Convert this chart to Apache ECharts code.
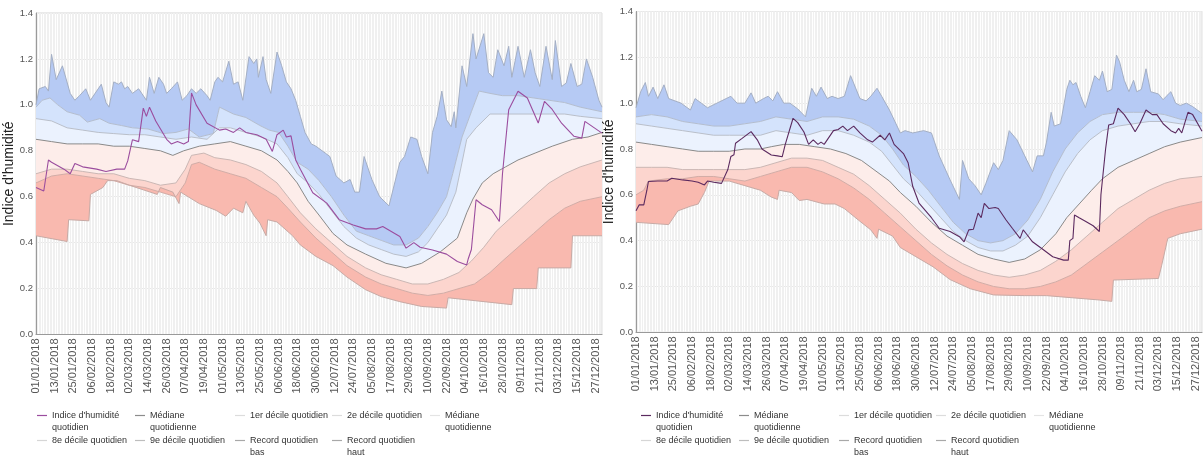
<!DOCTYPE html>
<html>
<head>
<meta charset="utf-8">
<script src="https://cdn.jsdelivr.net/npm/echarts@6/dist/echarts.min.js"></script>
<style>
  html, body { margin: 0; padding: 0; background: #ffffff; }
  #chart { width: 1203px; height: 459px; }
</style>
</head>
<body>
<div id="chart"></div>
<script>
// Daily humidity index for 2018, with the historical daily deciles and records.
// Each series is a list of [day of year (0 = 01/01), value].

// ---- Left station ----
const recordHautA = [[0,1.0],[2,1.07],[6,1.08],[8,1.06],[10,1.22],[13,1.11],[17,1.17],[22,1.05],[25,1.02],[28,1.04],[32,1.07],[35,1.02],[39,1.06],[42,1.09],[45,1.01],[47,0.99],[50,1.1],[53,1.09],[55,1.1],[57,1.07],[59,1.08],[62,1.05],[66,1.07],[71,1.02],[73,1.12],[76,1.05],[79,1.12],[82,1.09],[84,1.05],[87,1.07],[91,1.1],[94,1.02],[97,1.04],[100,1.07],[103,1.05],[106,1.07],[110,1.04],[112,1.02],[115,1.1],[117,1.12],[120,1.1],[124,1.19],[127,1.09],[130,1.1],[133,1.02],[137,1.21],[140,1.18],[142,1.2],[143,1.12],[146,1.21],[148,1.11],[151,1.05],[155,1.23],[158,1.17],[161,1.1],[164,1.07],[167,1.02],[170,0.95],[173,0.88],[177,0.83],[180,0.82],[186,0.79],[189,0.775],[193,0.69],[198,0.66],[202,0.675],[205,0.62],[208,0.62],[211,0.775],[216,0.675],[221,0.6],[227,0.56],[234,0.75],[237,0.775],[241,0.86],[245,0.85],[248,0.775],[252,0.7],[255,0.88],[258,0.95],[261,1.06],[264,0.935],[267,0.905],[269,0.97],[270,0.9],[274,1.17],[277,1.08],[281,1.31],[283,1.2],[288,1.31],[291,1.14],[294,1.12],[297,1.24],[301,1.17],[304,1.255],[306,1.12],[310,1.255],[314,1.12],[318,1.24],[321,1.14],[324,1.08],[328,1.255],[332,1.11],[334,1.28],[338,1.08],[341,1.095],[344,1.18],[348,1.08],[351,1.09],[354,1.2],[358,1.12],[362,1.02],[364,0.99]];
const decile9A = [[0,0.99],[4,1.02],[9,1.03],[14,1.0],[20,0.97],[28,0.955],[33,0.925],[41,0.94],[47,0.92],[55,0.91],[62,0.9],[72,0.895],[82,0.875],[90,0.88],[98,0.895],[105,0.86],[114,0.875],[118,0.99],[127,0.96],[135,0.945],[144,0.91],[150,0.89],[156,0.88],[162,0.82],[168,0.75],[175,0.72],[182,0.67],[190,0.6],[198,0.52],[206,0.45],[214,0.43],[222,0.41],[230,0.39],[238,0.39],[246,0.42],[252,0.47],[258,0.53],[264,0.6],[268,0.7],[274,0.86],[280,0.97],[285,1.06],[292,1.05],[300,1.04],[310,1.04],[320,1.03],[330,1.02],[340,1.01],[350,0.99],[364,0.97]];
const decile8A = [[0,0.94],[10,0.93],[20,0.9],[30,0.89],[40,0.88],[50,0.875],[60,0.87],[70,0.87],[80,0.86],[90,0.85],[100,0.86],[110,0.85],[118,0.9],[125,0.9],[135,0.88],[145,0.86],[155,0.83],[162,0.77],[168,0.7],[175,0.66],[182,0.61],[190,0.54],[198,0.47],[206,0.42],[214,0.39],[222,0.37],[230,0.35],[238,0.34],[246,0.36],[252,0.4],[258,0.46],[264,0.52],[270,0.62],[274,0.75],[277,0.85],[283,0.9],[292,0.96],[300,0.96],[310,0.96],[320,0.96],[330,0.96],[340,0.96],[350,0.95],[364,0.94]];
const medianA = [[0,0.85],[10,0.84],[20,0.83],[30,0.83],[40,0.83],[50,0.82],[60,0.82],[70,0.81],[80,0.8],[88,0.78],[95,0.8],[105,0.82],[115,0.83],[125,0.84],[135,0.82],[145,0.8],[155,0.76],[162,0.71],[168,0.66],[175,0.58],[182,0.52],[191,0.44],[200,0.39],[212,0.35],[225,0.31],[238,0.29],[248,0.31],[260,0.36],[271,0.42],[277,0.53],[281,0.59],[287,0.66],[294,0.7],[302,0.73],[310,0.76],[321,0.79],[332,0.82],[345,0.85],[355,0.86],[364,0.88]];
const decile2A = [[0,0.7],[10,0.72],[20,0.72],[30,0.71],[40,0.7],[50,0.7],[60,0.68],[70,0.67],[80,0.65],[90,0.66],[96,0.72],[100,0.78],[108,0.79],[115,0.77],[125,0.76],[135,0.74],[145,0.71],[155,0.66],[162,0.6],[170,0.53],[180,0.46],[190,0.4],[200,0.34],[212,0.29],[222,0.26],[232,0.24],[242,0.22],[252,0.22],[262,0.24],[272,0.27],[280,0.32],[288,0.38],[296,0.45],[304,0.5],[312,0.55],[320,0.6],[330,0.66],[340,0.7],[350,0.73],[364,0.76]];
const decile1A = [[0,0.66],[10,0.69],[20,0.7],[30,0.69],[40,0.68],[50,0.67],[60,0.65],[70,0.64],[80,0.62],[90,0.6],[96,0.66],[100,0.74],[105,0.75],[115,0.72],[125,0.7],[135,0.68],[145,0.64],[155,0.6],[162,0.55],[170,0.49],[180,0.42],[190,0.36],[200,0.3],[212,0.25],[222,0.22],[232,0.2],[242,0.18],[252,0.17],[262,0.18],[272,0.2],[282,0.22],[292,0.27],[300,0.32],[310,0.38],[320,0.44],[330,0.5],[340,0.55],[350,0.58],[364,0.6]];
const recordBasA = [[0,0.43],[20,0.405],[21,0.5],[34,0.495],[35,0.61],[43,0.64],[46,0.67],[52,0.67],[60,0.65],[69,0.63],[78,0.61],[80,0.64],[88,0.62],[92,0.57],[93,0.62],[105,0.57],[116,0.54],[122,0.515],[127,0.55],[133,0.53],[135,0.58],[140,0.52],[144,0.485],[148,0.43],[149,0.5],[155,0.49],[165,0.43],[170,0.39],[180,0.34],[191,0.3],[200,0.25],[212,0.195],[222,0.165],[234,0.143],[248,0.122],[264,0.115],[265,0.16],[306,0.13],[307,0.2],[322,0.2],[323,0.29],[344,0.29],[345,0.43],[364,0.43]];
const indexA = [[0,0.64],[5,0.625],[8,0.76],[10,0.75],[18,0.72],[22,0.7],[25,0.745],[30,0.73],[39,0.72],[45,0.71],[52,0.72],[57,0.72],[59,0.756],[62,0.848],[66,0.84],[69,0.986],[71,0.95],[73,0.99],[77,0.93],[84,0.85],[87,0.83],[91,0.84],[95,0.83],[98,0.84],[100,1.052],[103,1.0],[110,0.92],[118,0.89],[122,0.895],[127,0.88],[131,0.9],[135,0.88],[142,0.87],[148,0.85],[152,0.797],[155,0.87],[159,0.89],[161,0.86],[164,0.865],[167,0.76],[170,0.72],[178,0.617],[187,0.572],[195,0.5],[204,0.477],[212,0.46],[219,0.46],[223,0.47],[234,0.427],[238,0.376],[243,0.4],[247,0.38],[255,0.368],[264,0.35],[271,0.318],[277,0.303],[278,0.33],[280,0.37],[283,0.587],[287,0.565],[293,0.543],[298,0.492],[300,0.7],[304,0.979],[310,1.059],[316,1.03],[323,0.921],[327,1.015],[332,0.98],[338,0.92],[346,0.863],[351,0.855],[353,0.928],[364,0.877]];

// ---- Right station ----
const recordHautB = [[0,0.98],[3,1.05],[6,1.09],[8,1.03],[11,1.07],[14,1.02],[18,1.08],[21,1.02],[29,1.0],[35,0.97],[38,1.02],[42,1.0],[46,0.98],[52,1.0],[58,1.02],[61,1.03],[65,1.0],[70,1.0],[74,1.045],[77,1.0],[82,1.02],[85,1.03],[88,1.01],[91,1.05],[95,1.0],[99,1.0],[104,0.975],[109,0.94],[113,1.065],[116,1.03],[119,1.07],[123,1.02],[126,1.03],[130,1.02],[134,1.03],[138,1.12],[141,1.07],[144,1.02],[148,1.01],[151,1.03],[155,1.065],[158,1.03],[163,0.97],[170,0.87],[173,0.88],[178,0.87],[185,0.88],[190,0.87],[195,0.77],[202,0.665],[208,0.58],[210,0.75],[214,0.67],[218,0.64],[222,0.6],[225,0.65],[230,0.74],[233,0.71],[236,0.75],[240,0.88],[245,0.84],[250,0.77],[255,0.7],[258,0.77],[262,0.77],[264,0.83],[267,0.96],[269,0.9],[273,0.91],[277,1.06],[279,1.1],[281,1.08],[283,1.09],[286,1.03],[289,0.98],[292,1.05],[295,1.12],[298,1.1],[300,1.14],[303,1.05],[306,1.06],[309,1.21],[311,1.18],[314,1.1],[317,1.05],[320,1.1],[322,1.05],[325,1.06],[328,1.15],[331,1.05],[336,1.04],[339,1.015],[341,1.03],[344,1.05],[347,1.0],[350,0.99],[354,1.0],[358,0.985],[364,0.955]];
const decile9B = [[0,0.94],[10,0.95],[20,0.94],[30,0.92],[40,0.91],[50,0.9],[60,0.9],[70,0.91],[80,0.92],[90,0.94],[100,0.93],[110,0.92],[120,0.94],[130,0.94],[140,0.93],[150,0.9],[158,0.86],[165,0.8],[172,0.73],[180,0.68],[188,0.62],[196,0.55],[204,0.48],[212,0.43],[220,0.4],[228,0.39],[236,0.4],[244,0.43],[252,0.49],[260,0.58],[268,0.7],[276,0.8],[284,0.87],[292,0.92],[300,0.95],[310,0.96],[320,0.96],[330,0.96],[340,0.95],[350,0.93],[364,0.92]];
const decile8B = [[0,0.91],[10,0.9],[20,0.89],[30,0.88],[40,0.87],[50,0.86],[60,0.86],[70,0.86],[80,0.86],[90,0.88],[100,0.87],[110,0.86],[120,0.88],[130,0.88],[140,0.86],[150,0.83],[158,0.79],[165,0.73],[172,0.67],[180,0.62],[188,0.56],[196,0.5],[204,0.44],[212,0.4],[220,0.37],[228,0.355],[236,0.355],[244,0.38],[252,0.42],[260,0.5],[268,0.6],[276,0.7],[284,0.78],[292,0.84],[300,0.88],[310,0.9],[320,0.91],[330,0.92],[340,0.92],[350,0.91],[364,0.9]];
const medianB = [[0,0.83],[10,0.82],[20,0.81],[30,0.8],[40,0.79],[50,0.79],[60,0.79],[70,0.8],[80,0.8],[87,0.81],[95,0.82],[105,0.82],[115,0.81],[125,0.8],[135,0.78],[145,0.75],[155,0.7],[163,0.66],[170,0.61],[180,0.55],[190,0.48],[200,0.42],[210,0.38],[220,0.34],[230,0.32],[240,0.305],[250,0.32],[260,0.36],[270,0.43],[277,0.5],[285,0.56],[293,0.62],[300,0.67],[310,0.72],[320,0.75],[330,0.78],[340,0.81],[350,0.83],[364,0.85]];
const decile2B = [[0,0.72],[10,0.72],[20,0.72],[30,0.71],[40,0.71],[50,0.71],[60,0.71],[70,0.71],[80,0.72],[90,0.74],[100,0.76],[110,0.76],[120,0.75],[130,0.72],[140,0.69],[150,0.64],[160,0.58],[170,0.52],[180,0.45],[190,0.39],[200,0.34],[210,0.3],[220,0.27],[230,0.25],[240,0.24],[250,0.25],[260,0.27],[270,0.31],[280,0.36],[290,0.42],[300,0.48],[310,0.54],[320,0.58],[330,0.62],[340,0.65],[350,0.67],[364,0.68]];
const decile1B = [[0,0.6],[5,0.62],[8,0.66],[20,0.67],[30,0.67],[40,0.68],[50,0.68],[60,0.67],[70,0.66],[80,0.68],[90,0.7],[100,0.72],[110,0.72],[120,0.7],[130,0.67],[140,0.63],[150,0.58],[160,0.52],[170,0.46],[180,0.4],[190,0.34],[200,0.29],[210,0.25],[220,0.22],[230,0.2],[240,0.19],[250,0.19],[260,0.2],[270,0.22],[280,0.25],[290,0.3],[300,0.35],[310,0.4],[320,0.45],[330,0.5],[340,0.53],[350,0.55],[364,0.57]];
const recordBasB = [[0,0.48],[21,0.47],[27,0.53],[35,0.55],[40,0.56],[44,0.61],[47,0.66],[60,0.66],[70,0.64],[80,0.62],[87,0.59],[91,0.58],[92,0.62],[100,0.61],[105,0.575],[110,0.58],[121,0.56],[128,0.56],[134,0.54],[143,0.49],[151,0.447],[155,0.41],[156,0.45],[165,0.42],[170,0.37],[180,0.33],[191,0.286],[202,0.23],[215,0.19],[230,0.163],[250,0.16],[264,0.16],[298,0.141],[306,0.135],[307,0.228],[336,0.235],[338,0.29],[342,0.41],[350,0.43],[364,0.45]];
const indexB = [[0,0.53],[2,0.556],[5,0.556],[7,0.62],[8,0.658],[14,0.66],[20,0.66],[23,0.672],[30,0.665],[36,0.66],[40,0.655],[44,0.643],[46,0.66],[50,0.655],[55,0.65],[59,0.709],[61,0.767],[63,0.775],[64,0.825],[68,0.845],[74,0.876],[78,0.84],[81,0.8],[87,0.774],[91,0.77],[94,0.766],[96,0.82],[101,0.934],[104,0.915],[108,0.874],[111,0.82],[114,0.84],[117,0.82],[119,0.83],[121,0.82],[127,0.88],[130,0.885],[133,0.9],[136,0.88],[140,0.9],[144,0.87],[149,0.84],[152,0.83],[157,0.86],[160,0.84],[163,0.87],[166,0.82],[172,0.78],[175,0.74],[178,0.636],[182,0.564],[190,0.5],[195,0.454],[202,0.44],[208,0.417],[211,0.395],[214,0.447],[217,0.45],[220,0.52],[222,0.5],[224,0.563],[227,0.54],[231,0.545],[233,0.54],[238,0.49],[242,0.454],[247,0.41],[249,0.447],[251,0.43],[255,0.395],[262,0.36],[268,0.33],[275,0.315],[278,0.315],[279,0.4],[281,0.41],[282,0.512],[285,0.5],[289,0.485],[294,0.465],[298,0.44],[299,0.6],[302,0.8],[304,0.905],[307,0.91],[310,0.978],[314,0.95],[318,0.91],[321,0.875],[324,0.91],[328,0.97],[332,0.95],[335,0.95],[339,0.91],[344,0.88],[347,0.87],[349,0.89],[351,0.87],[355,0.96],[358,0.95],[364,0.877]];

// Axis ticks
const yTicks = { min: 0, max: 1.4, step: 0.2 };
const labelEvery = 12; // one date label every 12 days

// Category axis: every day of 2018 as dd/mm/yyyy
const days = [];
for (let i = 0; i < 365; i++) {
  const d = new Date(Date.UTC(2018, 0, 1 + i));
  const dd = String(d.getUTCDate()).padStart(2, '0');
  const mm = String(d.getUTCMonth() + 1).padStart(2, '0');
  days.push(dd + '/' + mm + '/2018');
}

const NAMES = {
  index: "Indice d'humidité quotidien",
  median: 'Médiane quotidienne',
  d1: '1er décile quotidien',
  d2: '2e décile quotidien',
  d8: '8e décile quotidien',
  d9: '9e décile quotidien',
  rb: 'Record quotidien bas',
  rh: 'Record quotidien haut'
};

// Band fills, named by their upper boundary
const FILL = {
  rh: '#b6caf4',     // 9e décile -> record haut
  d9: '#d4e3fc',     // 8e -> 9e décile
  d8: '#ebf2fe',     // médiane -> 8e décile
  median: '#fdedea', // 2e décile -> médiane
  d2: '#fcd5ce',     // 1er -> 2e décile
  d1: '#f9b9af'      // record bas -> 1er décile
};
const EDGE = {
  rh: '#a4afc4', d9: '#b3bdcf', d8: '#b9bfca', median: '#8a8a8a',
  d2: '#cbb7b4', d1: '#d2aca6', rb: '#c8aaa5'
};

const panels = [
  { grid: { left: 36, top: 13, width: 566, height: 321.5 }, legendX: 37, legendRows: [415.5, 440.5], indexColor: '#9b4d9e',
    rh: recordHautA, d9: decile9A, d8: decile8A, median: medianA, d2: decile2A, d1: decile1A, rb: recordBasA, index: indexA },
  { grid: { left: 636, top: 11.5, width: 566, height: 320.8 }, legendX: 641, legendRows: [415.5, 440.5], indexColor: '#5b2a5f',
    rh: recordHautB, d9: decile9B, d8: decile8B, median: medianB, d2: decile2B, d1: decile1B, rb: recordBasB, index: indexB }
];

const font = "'Liberation Sans', Arial, sans-serif";

// A filled band between two boundary series, placed through the axes' scales
function band(gi, upper, lower, fill) {
  return {
    type: 'custom', xAxisIndex: gi, yAxisIndex: gi, silent: true, z: 1,
    data: [[0, 0]], encode: { x: 0, y: 1 },
    renderItem: (params, api) => {
      const top = upper.map(p => api.coord(p));
      const bottom = lower.map(p => api.coord(p)).reverse();
      return { type: 'polygon', shape: { points: top.concat(bottom) }, style: { fill: fill } };
    }
  };
}

const grids = [], xAxes = [], yAxes = [], series = [], legends = [];

panels.forEach((p, gi) => {
  grids.push(Object.assign({ show: true, borderColor: '#d4d4d4', borderWidth: 1, backgroundColor: 'transparent' }, p.grid));
  xAxes.push({
    type: 'category', gridIndex: gi, data: days, boundaryGap: false,
    axisLine: { lineStyle: { color: '#9a9a9a', width: 1 } },
    axisTick: { show: false },
    axisLabel: { interval: labelEvery - 1, rotate: 90, margin: 4, fontSize: 11, color: '#555', fontFamily: font },
    splitLine: { show: true, interval: 0, lineStyle: { color: '#f0f0f0', width: 1 } }
  });
  yAxes.push({
    type: 'value', gridIndex: gi, min: yTicks.min, max: yTicks.max, interval: yTicks.step,
    name: "Indice d'humidité", nameLocation: 'middle', nameGap: 11, nameRotate: 90,
    nameTextStyle: { fontSize: 14, color: '#222', fontFamily: font },
    axisLine: { show: true, lineStyle: { color: '#9a9a9a' } },
    axisTick: { show: false },
    axisLabel: { margin: 3, fontSize: 9.5, color: '#555', fontFamily: font, formatter: v => v.toFixed(1) },
    splitLine: { show: true, lineStyle: { color: '#e8e8e8' } }
  });

  // Filled bands between consecutive boundaries
  const order = ['rh', 'd9', 'd8', 'median', 'd2', 'd1', 'rb'];
  for (let i = 0; i < order.length - 1; i++) {
    series.push(band(gi, p[order[i]], p[order[i + 1]], FILL[order[i]]));
  }
  // Boundary lines
  order.forEach(k => {
    series.push({
      type: 'line', name: NAMES[k], xAxisIndex: gi, yAxisIndex: gi,
      data: p[k], showSymbol: false, symbol: 'none', silent: true, z: 2,
      lineStyle: { width: 1, color: EDGE[k] }
    });
  });
  series.push({
    type: 'line', name: NAMES.index, xAxisIndex: gi, yAxisIndex: gi,
    data: p.index, showSymbol: false, symbol: 'none', silent: true, z: 4,
    lineStyle: { width: 1.1, color: p.indexColor }
  });

  // Legend laid out in five columns; the blank first line keeps the
  // marker level with the first line of two-line labels.
  const cols = [0, 98, 198, 295, 393];
  const items = [
    { key: 'index', text: "Indice d'humidité\nquotidien", c: 0, r: 0, color: p.indexColor },
    { key: 'median', text: 'Médiane\nquotidienne', c: 1, r: 0, color: '#8c8c8c' },
    { key: 'd1', text: '1er décile quotidien', c: 2, r: 0, color: '#dcdcdc' },
    { key: 'd2', text: '2e décile quotidien', c: 3, r: 0, color: '#dcdcdc' },
    { key: 'median', text: 'Médiane\nquotidienne', c: 4, r: 0, color: '#e4e4e4' },
    { key: 'd8', text: '8e décile quotidien', c: 0, r: 1, color: '#d6d6d6' },
    { key: 'd9', text: '9e décile quotidien', c: 1, r: 1, color: '#bdbdbd' },
    { key: 'rb', text: 'Record quotidien\nbas', c: 2, r: 1, color: '#a8a8a8' },
    { key: 'rh', text: 'Record quotidien\nhaut', c: 3, r: 1, color: '#a8a8a8' }
  ];
  const lh = 12;
  items.forEach(it => {
    const twoLines = it.text.indexOf('\n') >= 0;
    const shown = twoLines ? '\u00a0\n' + it.text : it.text;
    legends.push({
      selectedMode: false, padding: 0, orient: 'horizontal',
      left: p.legendX + cols[it.c],
      top: p.legendRows[it.r] - (twoLines ? 1.5 * lh : 0.5 * lh),
      itemWidth: 10, itemHeight: 1.2,
      icon: 'rect',
      formatter: () => shown,
      textStyle: { fontSize: 9, lineHeight: lh, color: '#333', fontFamily: font },
      data: [{ name: NAMES[it.key], itemStyle: { color: it.color } }]
    });
  });
});

const chart = echarts.init(document.getElementById('chart'), null, { renderer: 'canvas' });
chart.setOption({
  animation: false,
  backgroundColor: '#ffffff',
  grid: grids,
  xAxis: xAxes,
  yAxis: yAxes,
  legend: legends,
  series: series
});
</script>
</body>
</html>
